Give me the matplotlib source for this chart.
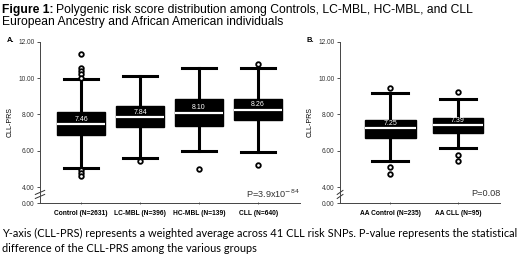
import matplotlib.pyplot as plt
from matplotlib.lines import Line2D

# panel A data
cats_a = ["Control (N=2631)", "LC-MBL (N=396)", "HC-MBL (N=139)", "CLL (N=640)"]
med_a = [7.46, 7.84, 8.10, 8.26]
q1_a = [6.86, 7.28, 7.36, 7.69]
q3_a = [8.11, 8.47, 8.84, 8.84]
wlo_a = [5.06, 5.61, 5.96, 5.95]
whi_a = [9.93, 10.12, 10.55, 10.53]
fl_a = [[11.30, 10.55, 10.38, 10.22, 10.0, 4.92, 4.76, 4.62],
        [5.41], [5.0], [10.77, 5.23]]
p_a = r"P=3.9x10$^{-84}$"

# panel B data
cats_b = ["AA Control (N=235)", "AA CLL (N=95)"]
med_b = [7.25, 7.39]
q1_b = [6.72, 7.0]
q3_b = [7.72, 7.8]
wlo_b = [5.43, 6.13]
whi_b = [9.2, 8.83]
fl_b = [[9.46, 5.11, 4.7], [9.22, 5.74, 5.44]]
p_b = "P=0.08"

yticks = [4, 6, 8, 10, 12]
ybot = 3.12  # where "0.00" sits after the axis break

plt.rcParams['font.family'] = ['Liberation Sans', 'DejaVu Sans']

fig = plt.figure(figsize=(5.2, 2.61), dpi=100)


def panel(rect, cats, med, q1, q3, wlo, whi, fliers, width, xlim, ptext, letter, lx):
    ax = fig.add_axes(rect)
    stats = []
    for c, m, a, b, lo, hi, f in zip(cats, med, q1, q3, wlo, whi, fliers):
        stats.append(dict(label=c, med=m, q1=a, q3=b, whislo=lo, whishi=hi, fliers=f))
    ax.bxp(stats, positions=range(len(cats)), widths=width, patch_artist=True,
           boxprops=dict(facecolor="black", edgecolor="black", linewidth=1),
           medianprops=dict(color="white", linewidth=1.6),
           whiskerprops=dict(color="black", linewidth=2.2),
           capprops=dict(color="black", linewidth=2.2),
           capwidths=width * 0.72,
           flierprops=dict(marker="o", markersize=3.3, markerfacecolor="white",
                           markeredgecolor="black", markeredgewidth=1.3))
    for i, m in enumerate(med):
        ax.text(i, m + 0.08, f"{m:.2f}", color="white", fontsize=5,
                ha="center", va="bottom")
    ax.set_xlim(*xlim)
    ax.set_ylim(ybot, 12)
    ax.set_yticks([ybot] + yticks)
    ax.set_yticklabels(["0.00"] + [f"{t:.2f}" for t in yticks])
    ax.set_xticks(range(len(cats)))
    ax.set_xticklabels(cats, fontweight="bold")
    ax.tick_params(axis="y", labelsize=4.7, length=2, width=0.6, pad=2, colors="#333333")
    ax.tick_params(axis="x", labelsize=4.8, length=2, width=0.6, pad=4,
                   direction="inout", colors="#555555", labelcolor="black")
    for s in ["top", "right"]:
        ax.spines[s].set_visible(False)
    ax.spines["left"].set_color("#444444")
    ax.spines["bottom"].set_color("#444444")
    ax.spines["left"].set_linewidth(0.7)
    ax.spines["bottom"].set_linewidth(0.7)
    ax.set_ylabel("CLL-PRS", fontsize=5, labelpad=3)
    # axis break marks
    yb = (3.55 - ybot) / (12 - ybot)
    for dy in (0, 0.025):
        ax.add_line(Line2D([-0.018, 0.018], [yb - 0.02 + dy, yb + 0.005 + dy],
                           transform=ax.transAxes, color="#333333", lw=0.7,
                           clip_on=False))
    ax.text(1.0, 0.06, ptext, transform=ax.transAxes, ha="right", va="center",
            fontsize=6.6, color="#333333")
    ax.text(lx, 1.01, letter, transform=ax.transAxes, fontsize=5.5,
            fontweight="bold", ha="left", va="center")
    return ax


panel([0.0769, 0.222, 0.5, 0.618], cats_a, med_a, q1_a, q3_a, wlo_a, whi_a, fl_a,
      0.81, (-0.695, 3.71), p_a, "A.", -0.127)
panel([0.654, 0.222, 0.308, 0.618], cats_b, med_b, q1_b, q3_b, wlo_b, whi_b, fl_b,
      0.75, (-0.74, 1.625), p_b, "B.", -0.21)

fig.text(0.004, 0.962, "Figure 1:", fontsize=8.75, fontweight="bold", va="center")
fig.text(0.108, 0.962, "Polygenic risk score distribution among Controls, LC-MBL, HC-MBL, and CLL",
         fontsize=8.75, va="center")
fig.text(0.004, 0.915, "European Ancestry and African American individuals", fontsize=8.75,
         va="center")
fig.text(0.004, 0.107, "Y-axis (CLL-PRS) represents a weighted average across 41 CLL risk SNPs. "
         "P-value represents the statistical", fontsize=7.9, va="center",
         family=["Lato", "DejaVu Sans"])
fig.text(0.004, 0.046, "difference of the CLL-PRS among the various groups", fontsize=7.9,
         va="center", family=["Lato", "DejaVu Sans"])

fig.savefig("out.png", dpi=100)
